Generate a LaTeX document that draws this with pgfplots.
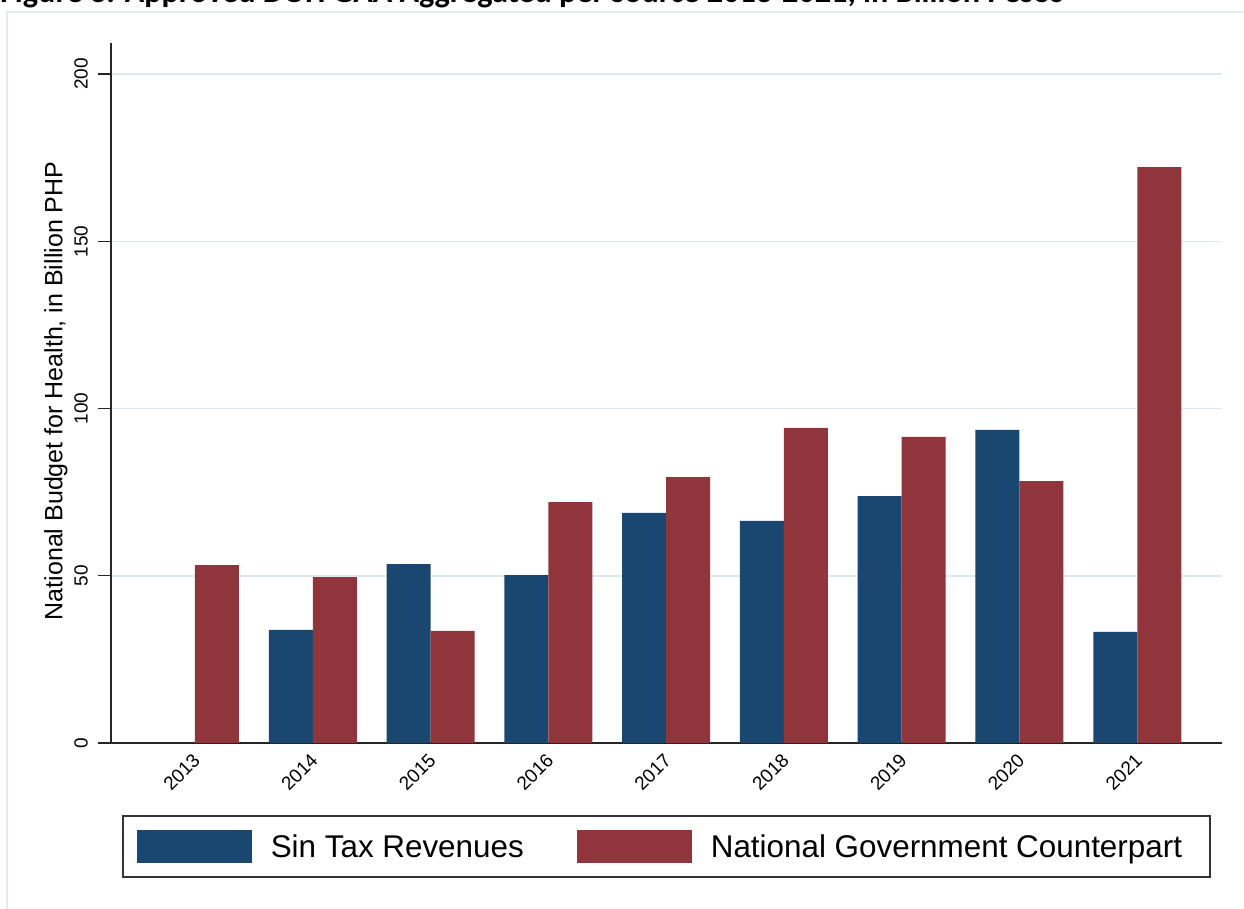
\documentclass[border=0pt]{standalone}
\usepackage{pgfplots}
\pgfplotsset{compat=1.18}
\usepackage{fontspec}
\setmainfont{Liberation Sans}
\newfontfamily\titlefont{Carlito}
\definecolor{stnavy}{RGB}{26,71,111}
\definecolor{stmaroon}{RGB}{144,53,59}
\definecolor{gridcol}{RGB}{222,234,239}
\definecolor{framecol}{RGB}{226,235,239}
\pgfplotsset{
  patchlegend/.style={legend image code/.code={%
      \fill[##1,draw=none] (0bp,-16.5bp) rectangle (115bp,16.5bp);
      \path (134bp,0bp);}},
}
\begin{document}
\begin{tikzpicture}[x=1bp,y=1bp]
\useasboundingbox (0,0) rectangle (1244,909);
\draw[framecol, line width=2bp] (7,-10) -- (7,897) -- (1260,897);
\node[anchor=base west, inner sep=0pt] at (0,906) {\resizebox{1063bp}{!}{\titlefont\bfseries Figure 8. Approved DOH GAA Aggregated per source 2013-2021, in Billion Pesos}};
\begin{axis}[
  at={(111bp,166bp)}, anchor=south west,
  scale only axis, width=1111bp, height=700bp,
  xmin=-0.713, xmax=8.72, ymin=0, ymax=209.3,
  ybar=0pt, bar width=44bp,
  axis x line*=bottom, axis y line*=left,
  axis line style={line width=1.6bp, color=black!85},
  xtick={0,...,8},
  xticklabels={2013,2014,2015,2016,2017,2018,2019,2020,2021},
  x tick style={draw=none},
  x tick label style={rotate=45, anchor=north east, inner sep=0pt, yshift=5bp, xshift=0.5bp,
     font=\fontsize{19bp}{22bp}\selectfont},
  ytick={0,50,100,150,200},
  tick align=outside,
  major tick length=13bp,
  y tick style={line width=1.4bp, color=black!85},
  y tick label style={rotate=90, anchor=south, inner sep=0pt, yshift=10bp, font=\fontsize{19bp}{22bp}\selectfont},
  /pgf/number format/assume math mode=true,
  ymajorgrids, major grid style={gridcol, line width=1.6bp},
  every axis y label/.style={at={(rel axis cs:-0.0495,0.503)}, rotate=90, anchor=center,
     font=\fontsize{25bp}{30bp}\selectfont},
  ylabel={National Budget for Health, in Billion PHP},
  legend columns=2,
  legend cell align=left,
  legend style={at={(0.0099,-0.1029)}, anchor=north west, draw=black!80, line width=1.5bp,
     inner xsep=14bp, inner ysep=14bp,
     font=\fontsize{31.4bp}{36bp}\selectfont,
     nodes={inner sep=0pt, text height=22bp, text depth=0pt},
     /tikz/every even column/.append style={column sep=53bp}},
]
\addplot[fill=stnavy, draw=none, patchlegend] coordinates {
 (1,33.8) (2,53.5) (3,50.2) (4,68.8) (5,66.4) (6,73.8) (7,93.6) (8,33.2)};
\addlegendentry{Sin Tax Revenues}
\addplot[fill=stmaroon, draw=none, patchlegend] coordinates {
 (0,53.2) (1,49.6) (2,33.5) (3,72.0) (4,79.5) (5,94.2) (6,91.5) (7,78.3) (8,172.2)};
\addlegendentry{National Government Counterpart\kern14bp}
\end{axis}
\end{tikzpicture}
\end{document}
